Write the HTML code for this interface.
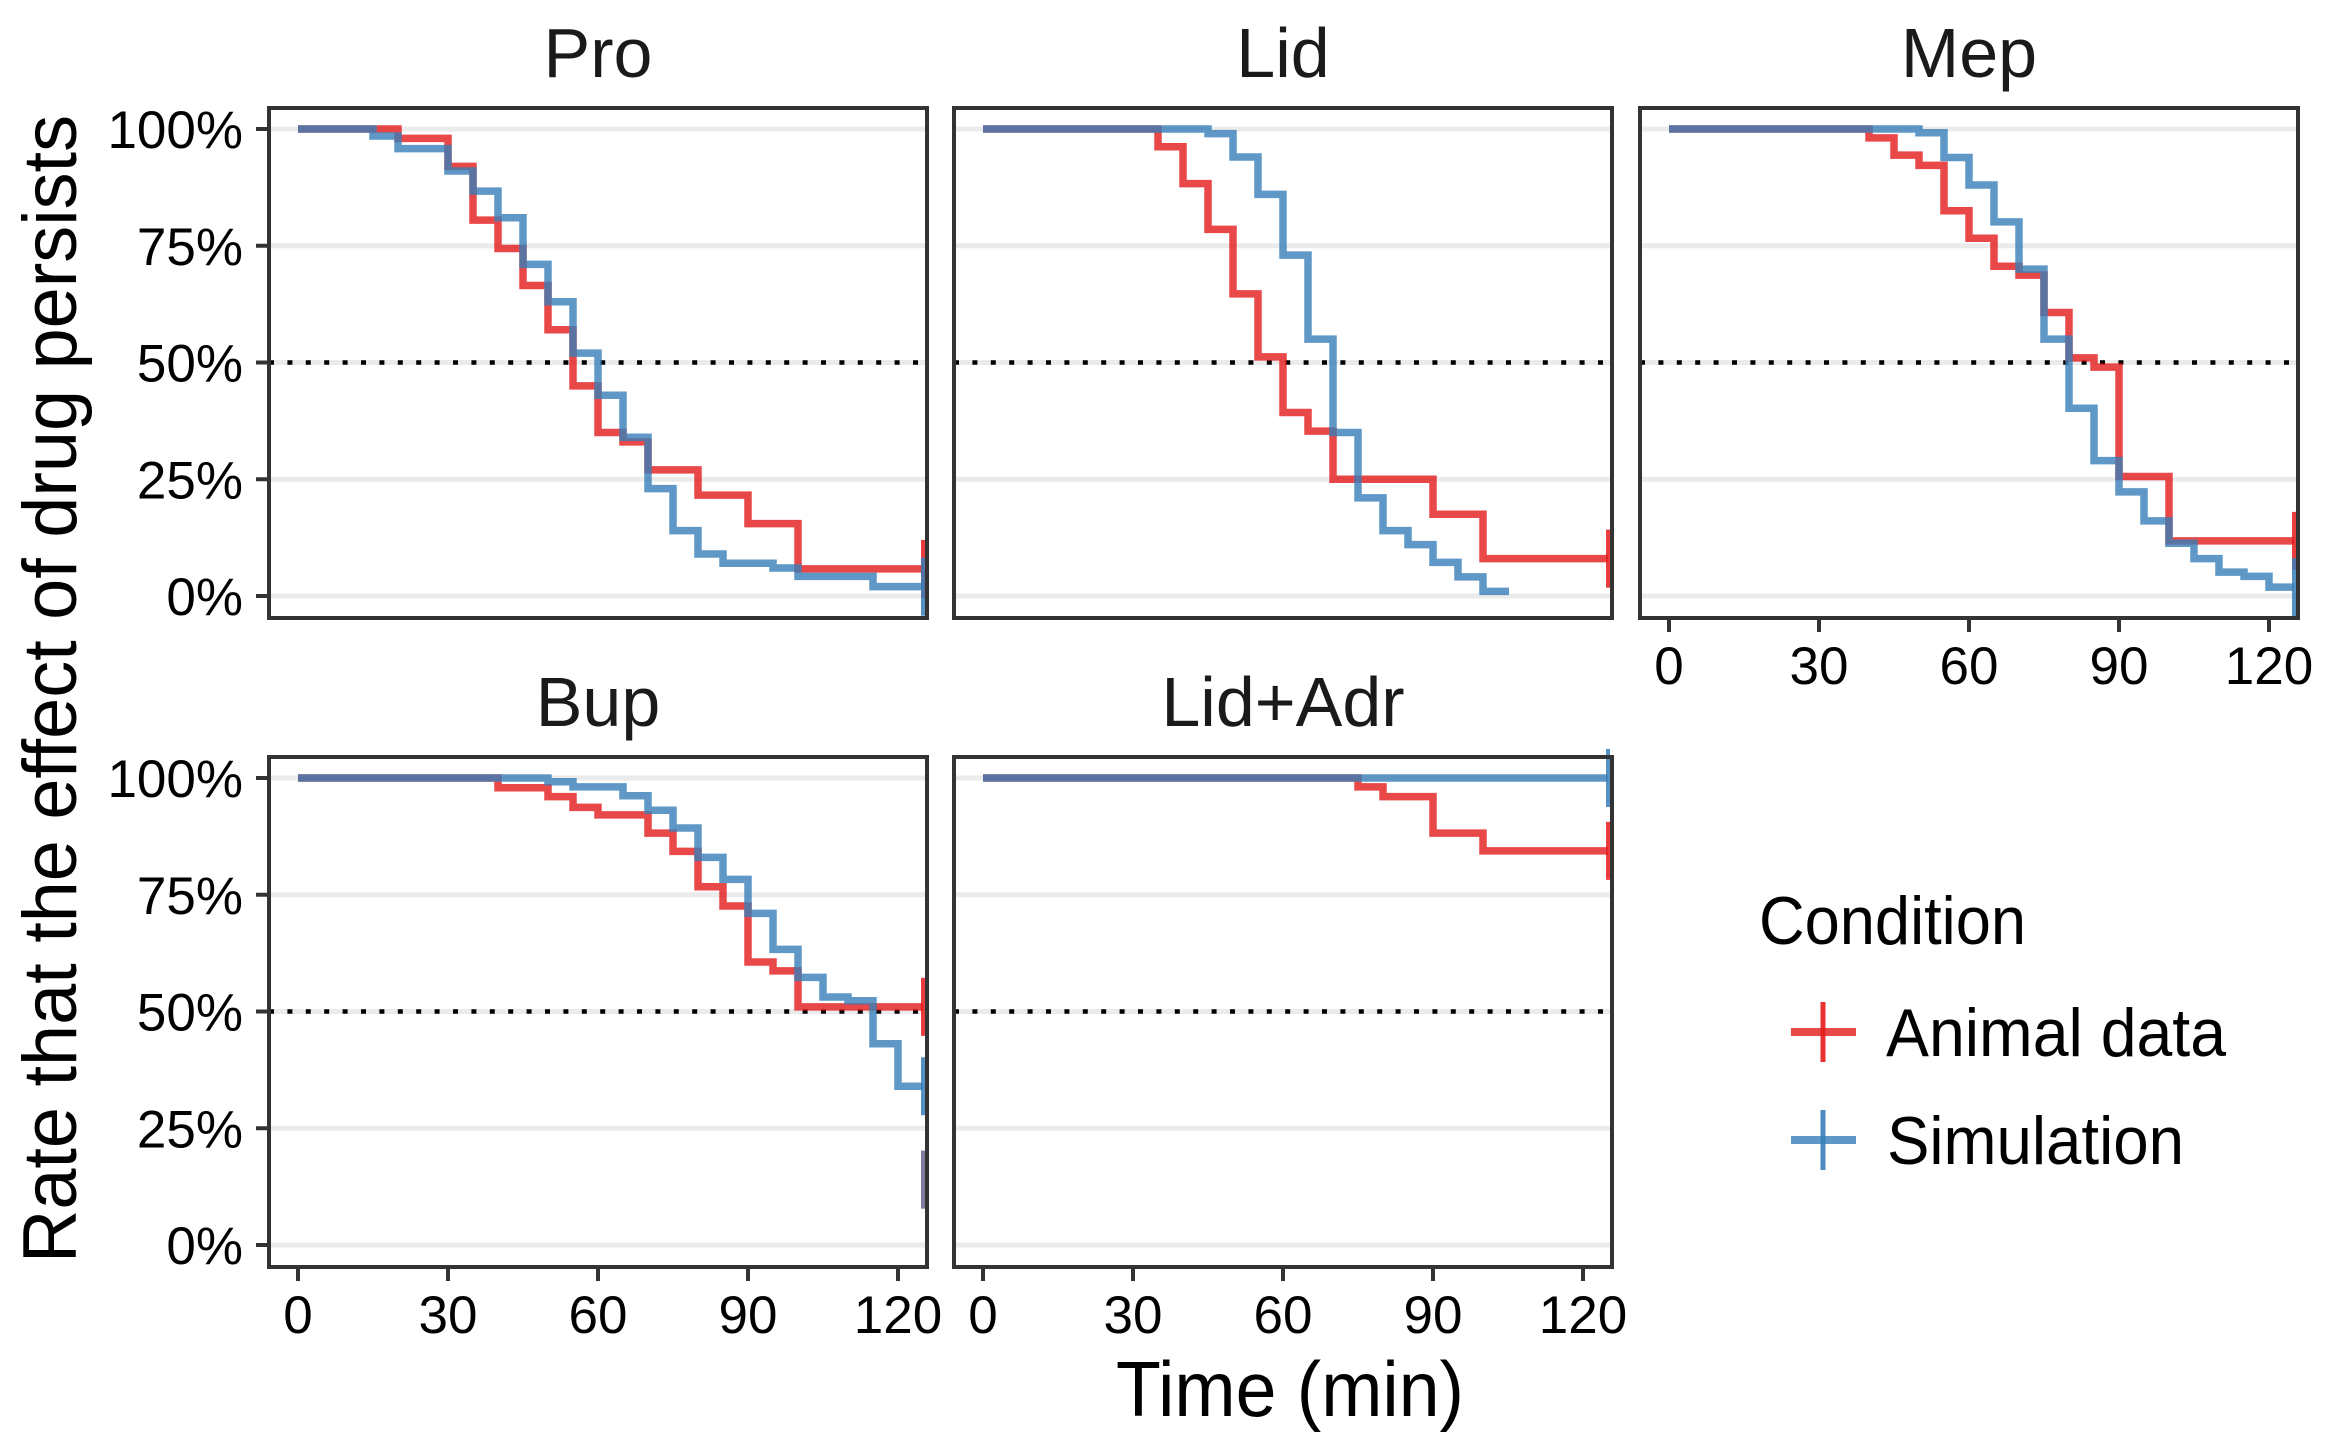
<!DOCTYPE html>
<html><head><meta charset="utf-8"><style>
html,body{margin:0;padding:0;background:#fff;}
svg{display:block;font-family:"Liberation Sans",Arial,sans-serif;}
</style></head><body>
<svg id="chart" width="2338" height="1443" viewBox="0 0 2338 1443" xmlns="http://www.w3.org/2000/svg">
<rect x="0" y="0" width="2338" height="1443" fill="#fff"/>
<g id="panels"></g>
<text transform="translate(76,689) rotate(-90)" text-anchor="middle" font-size="76" textLength="1148" lengthAdjust="spacingAndGlyphs" fill="#000">Rate that the effect of drug persists</text>
<text x="1290" y="1416" text-anchor="middle" font-size="78" textLength="348" lengthAdjust="spacingAndGlyphs" fill="#000">Time (min)</text>
<g>
<text x="1759" y="944" font-size="68" textLength="267" lengthAdjust="spacingAndGlyphs" fill="#000">Condition</text>
<g>
<line x1="1791" y1="1032" x2="1856" y2="1032" stroke="#E41A1C" stroke-opacity="0.8" stroke-width="8"/>
<line x1="1823" y1="1002" x2="1823" y2="1062" stroke="#E41A1C" stroke-opacity="0.9" stroke-width="5"/>
<text x="1886" y="1056" font-size="68" textLength="340" lengthAdjust="spacingAndGlyphs" fill="#000">Animal data</text>
</g>
<g>
<line x1="1791" y1="1140" x2="1856" y2="1140" stroke="#377EB8" stroke-opacity="0.8" stroke-width="8"/>
<line x1="1823" y1="1110" x2="1823" y2="1170" stroke="#377EB8" stroke-opacity="0.9" stroke-width="5"/>
<text x="1887" y="1164" font-size="68" textLength="297" lengthAdjust="spacingAndGlyphs" fill="#000">Simulation</text>
</g>
</g>
</svg>
<script>
// ---- data ----
const panelNames = ["Pro","Lid","Mep","Bup","Lid+Adr"];
const xTicks = [0,30,60,90,120];
const yTicks = [0,25,50,75,100];
const yTickLabels = ["0%","25%","50%","75%","100%"];

const proAnimalTimes = [0,20,30,35,40,45,50,55,60,65,70,80,90,100];
const proAnimalSurv  = [100,98,92,80.5,74.4,66.5,57,45,35,33,27,21.6,15.5,5.8];
const proSimTimes = [0,15,20,30,35,40,45,50,55,60,65,70,75,80,85,95,100,115];
const proSimSurv  = [100,98.5,95.8,91,86.7,81,71,63,52,43,34,23,14,9,7,6,4.2,2];

const lidAnimalTimes = [0,35,40,45,50,55,60,65,70,90,100];
const lidAnimalSurv  = [100,96.2,88.3,78.5,64.7,51.2,39.3,35.3,25,17.5,8];
const lidSimTimes = [0,45,50,55,60,65,70,75,80,85,90,95,100];
const lidSimSurv  = [100,99,94,86,73,55,35,21,14,11,7.2,4.1,1];

const mepAnimalTimes = [0,40,45,50,55,60,65,70,75,80,85,90,100];
const mepAnimalSurv  = [100,98.1,94.4,92.2,82.5,76.6,70.6,68.7,60.7,51,49,25.6,11.8];
const mepSimTimes = [0,50,55,60,65,70,75,80,85,90,95,100,105,110,115,120];
const mepSimSurv  = [100,99.2,93.9,88,80.1,70,55,40.2,29,22.3,16.1,11.3,8,5.1,4.2,1.9];

const bupAnimalTimes = [0,40,50,55,60,70,75,80,85,90,95,100];
const bupAnimalSurv  = [100,97.9,96,93.7,92.1,88.2,84.3,76.7,72.6,60.6,58.7,51];
const bupSimTimes = [0,50,55,65,70,75,80,85,90,95,100,105,110,115,120];
const bupSimSurv  = [100,99.2,98.1,96.2,93.1,89.3,83,78.3,71,63.3,57.3,53.1,52.3,43.1,34];
const bupExtraCensor = [14];

const ladAnimalTimes = [0,75,80,90,100];
const ladAnimalSurv  = [100,98.1,96,88.2,84.4];
const ladSimTimes = [0];
const ladSimSurv  = [100];

const endTimes = {Pro:[125,125], Lid:[125,105.2], Mep:[125,125], Bup:[125,125], "Lid+Adr":[125,125]};
const censored = {Pro:[true,true], Lid:[true,false], Mep:[true,true], Bup:[true,true], "Lid+Adr":[true,true]};

const seriesData = {
  "Pro":[[proAnimalTimes,proAnimalSurv],[proSimTimes,proSimSurv]],
  "Lid":[[lidAnimalTimes,lidAnimalSurv],[lidSimTimes,lidSimSurv]],
  "Mep":[[mepAnimalTimes,mepAnimalSurv],[mepSimTimes,mepSimSurv]],
  "Bup":[[bupAnimalTimes,bupAnimalSurv],[bupSimTimes,bupSimSurv]],
  "Lid+Adr":[[ladAnimalTimes,ladAnimalSurv],[ladSimTimes,ladSimSurv]]
};

// ---- layout ----
const NS="http://www.w3.org/2000/svg";
const layout = {
  "Pro":{L:269,T:108,yl:true,xl:false},
  "Lid":{L:954,T:108,yl:false,xl:false},
  "Mep":{L:1640,T:108,yl:false,xl:true},
  "Bup":{L:269,T:757,yl:true,xl:true},
  "Lid+Adr":{L:954,T:757,yl:false,xl:true}
};
const W=658,H=510;
const colors=["#E41A1C","#377EB8"];
const root=document.getElementById("panels");
function mk(tag,attrs,parent){const e=document.createElementNS(NS,tag);for(const k in attrs)e.setAttribute(k,attrs[k]);parent.appendChild(e);return e;}

panelNames.forEach(name=>{
  const p=layout[name];
  const xs=t=>p.L+29+t*5.0;
  const ys=v=>p.T+21+(100-v)*4.67;
  const slug=name.toLowerCase().replace(/\+/g,'-');
  const g=mk("g",{},root);
  
  
  const title=mk("text",{x:p.L+W/2,y:p.T-31,"text-anchor":"middle","font-size":70,fill:"#1a1a1a"},g);
  
  
  title.textContent=name;
  yTicks.forEach((v,i)=>{
    const gl=mk("line",{x1:p.L,x2:p.L+W,y1:ys(v),y2:ys(v),stroke:"#EBEBEB","stroke-width":5},g);
    
    
    if(p.yl){
      const tk=mk("line",{x1:p.L-13,x2:p.L,y1:ys(v),y2:ys(v),stroke:"#333","stroke-width":4},g);
      
      
      const tl=mk("text",{x:p.L-26,y:ys(v)+19,"text-anchor":"end","font-size":53,fill:"#000"},g);
      
      
      tl.textContent=yTickLabels[i];
    }
  });
  const ref=mk("line",{x1:p.L,x2:p.L+W,y1:ys(50),y2:ys(50),stroke:"#000","stroke-width":4.5,"stroke-dasharray":"5 13.4"},g);
  
  
  if(p.xl){
    xTicks.forEach(t=>{
      const tk=mk("line",{x1:xs(t),x2:xs(t),y1:p.T+H,y2:p.T+H+14,stroke:"#333","stroke-width":4},g);
      
      
      const tl=mk("text",{x:xs(t),y:p.T+H+66,"text-anchor":"middle","font-size":53,fill:"#000"},g);
      
      
      tl.textContent=t;
    });
  }
  seriesData[name].forEach((s,si)=>{
    const [ts,vs]=s;
    let d="M"+xs(ts[0])+" "+ys(vs[0]);
    for(let i=1;i<ts.length;i++){d+=" H"+xs(ts[i])+" V"+ys(vs[i]);}
    const end=endTimes[name][si];
    d+=" H"+xs(end);
    const path=mk("path",{d:d,fill:"none",stroke:colors[si],"stroke-opacity":0.8,"stroke-width":7.5,"stroke-linejoin":"miter"},g);
    
    
    if(censored[name][si]){
      const last=vs[vs.length-1];
      const c=mk("line",{x1:xs(end),x2:xs(end),y1:ys(last)-29,y2:ys(last)+29,stroke:colors[si],"stroke-opacity":0.85,"stroke-width":4},g);
      
      
    }
  });
  if(name==="Bup"){
    bupExtraCensor.forEach(v=>{
      colors.forEach(col=>{
        const c=mk("line",{x1:xs(125),x2:xs(125),y1:ys(v)-29,y2:ys(v)+29,stroke:col,"stroke-opacity":0.6,"stroke-width":4},g);
        
        
      });
    });
  }
  const border=mk("rect",{x:p.L,y:p.T,width:W,height:H,fill:"none",stroke:"#333","stroke-width":4},g);
  
  
});
</script>
</body></html>
